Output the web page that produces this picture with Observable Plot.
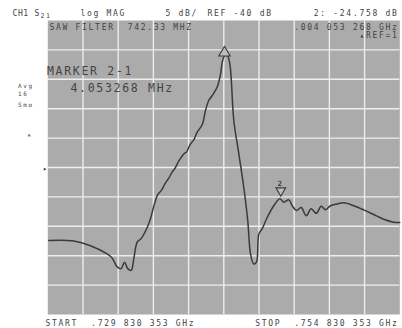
<!DOCTYPE html>
<html><head><meta charset="utf-8">
<script src="https://cdn.jsdelivr.net/npm/d3@7"></script>
<script src="https://cdn.jsdelivr.net/npm/@observablehq/plot@0.6"></script>
<style>
body{margin:0;background:#fff;}
#chart svg{display:block;}
</style>
</head><body><div id="chart"></div>
<script>
// Trace: frequency (MHz) and S21 log magnitude (dB)
const freqMHz = [729.90,731.68,732.86,734.05,734.40,734.76,735.04,735.28,735.51,735.75,735.94,736.18,736.46,736.89,737.10,737.36,737.64,737.90,738.19,738.40,738.66,738.90,739.13,739.49,739.70,739.96,740.20,740.44,740.80,741.03,741.26,741.50,741.86,742.10,742.22,742.38,742.57,742.76,743.04,743.40,743.75,744.03,744.23,744.46,744.65,744.82,745.06,745.41,745.88,746.31,746.59,746.95,747.19,747.49,747.83,748.18,748.54,748.89,749.25,749.55,749.91,750.38,750.85,751.56,752.27,752.98,753.69,754.40,754.83];
const magDB   = [-52.4,-52.5,-53.3,-54.7,-55.4,-56.9,-57.2,-56.1,-57.2,-57.5,-55.5,-52.7,-52.1,-50.2,-48.9,-46.6,-44.6,-43.9,-42.6,-41.9,-40.8,-40.0,-38.9,-37.7,-37.3,-36.0,-35.3,-34.0,-32.7,-30.3,-28.6,-27.8,-26.3,-24.1,-22.1,-21.0,-20.9,-22.4,-32.0,-37.7,-43.4,-49.0,-54.7,-56.4,-56.1,-51.3,-50.4,-48.5,-46.5,-45.3,-45.9,-45.5,-46.5,-47.3,-46.8,-48.2,-47.0,-47.8,-46.6,-47.2,-46.5,-46.2,-46.0,-46.5,-47.2,-48.0,-48.8,-49.3,-49.35];

// Markers
const markerFreq = [742.38, 746.38];
const markerDB   = [-21.0, -45.3];
const markerName = ["1", "2"];

// Grid (2.5 MHz/div, 5 dB/div, REF -40 dB at centre)
const xGrid = [732.33, 734.83, 737.33, 739.83, 742.33, 744.83, 747.33, 749.83, 752.33];
const yGrid = [-20, -25, -30, -35, -40, -45, -50, -55, -60];
const xDomain = [729.830353, 754.830353];
const yDomain = [-65, -15];

const trace = freqMHz.map((f, i) => ({f, db: magDB[i]}));
const markers = markerFreq.map((f, i) => ({f, db: markerDB[i], name: markerName[i]}));

const ink = "#3a3a3a";
const mono = "DejaVu Sans Mono, monospace";
const ML = 47.3, MT = 20;

function label(text, x, y, opts = {}) {
  return Plot.text([text], {
    text: d => d,
    frameAnchor: "top-left",
    dx: x - ML, dy: y - MT,
    textAnchor: opts.anchor || "start",
    lineAnchor: "middle",
    fontFamily: mono,
    fontSize: opts.size || 8,
    fill: opts.fill || "#444",
    fontWeight: opts.weight || "normal",
    className: opts.cls
  });
}

const chart = Plot.plot({
  width: 402,
  height: 328,
  marginLeft: ML,
  marginRight: 2.7,
  marginTop: MT,
  marginBottom: 14,
  style: {background: "#fff", overflow: "visible"},
  x: {domain: xDomain, axis: null},
  y: {domain: yDomain, axis: null},
  marks: [
    Plot.frame({fill: "#ababab", stroke: null}),
    Plot.ruleX(xGrid, {stroke: "#eeeeee", strokeWidth: 1.4}),
    Plot.ruleY(yGrid, {stroke: "#eeeeee", strokeWidth: 1.4}),
    Plot.line(trace, {x: "f", y: "db", stroke: ink, strokeWidth: 1.5, curve: "catmull-rom"}),
    Plot.dot(markers.slice(0, 1), {x: "f", y: "db", symbol: "triangle", r: 4.2, dy: -3, stroke: ink, strokeWidth: 1.1, fill: "#bdbdbd"}),
    Plot.dot(markers.slice(1), {x: "f", y: "db", symbol: "triangle", rotate: 180, r: 3.6, dy: -8, stroke: ink, strokeWidth: 1.1, fill: "#bdbdbd"}),
    Plot.text(markers.slice(1), {x: "f", y: "db", text: "name", dy: -15, fontFamily: mono, fontSize: 7, fontWeight: "bold", fill: ink}),
    // header line
    label("CH1", 12, 12.5, {cls: "tight"}),
    label("S", 34, 12.5, {cls: "tight"}),
    label("21", 40, 15, {size: 6.5}),
    label("log MAG", 80, 12.5),
    label("5 dB/", 165, 12.5),
    label("REF -40 dB", 207, 12.5),
    label("2: -24.758 dB", 398, 12.5, {anchor: "end"}),
    // inside top rows
    label("SAW FILTER  742.33 MHZ", 49, 27),
    label(".004 053 268 GHz", 398, 27, {anchor: "end"}),
    label("\u25B4REF=1", 398, 35, {anchor: "end"}),
    // marker readout
    label("MARKER 2-1", 46.5, 71, {size: 11.5}),
    label("4.053268 MHz", 70, 88, {size: 11.5}),
    // left annotations
    label("Avg", 17.5, 85.5, {size: 6}),
    label("16", 17.5, 94, {size: 6}),
    label("Smo", 17.5, 104.5, {size: 6}),
    label("*", 26.5, 136, {size: 7}),
    label("\u25B8", 42.5, 168.5, {size: 7}),
    // bottom line
    label("START  .729 830 353 GHz", 45, 322.5),
    label("STOP  .754 830 353 GHz", 398, 322.5, {anchor: "end"})
  ]
});

chart.querySelectorAll("text").forEach(t => {
  const fs = parseFloat(t.getAttribute("font-size") || "8");
  if (fs >= 11) t.setAttribute("letter-spacing", "2.5");
  else if (fs >= 7.5) t.setAttribute("letter-spacing", "1.7");
  else t.setAttribute("letter-spacing", "0.3");
});
chart.querySelectorAll("g.tight text").forEach(t => t.setAttribute("letter-spacing", "0.6"));
document.getElementById("chart").appendChild(chart);
</script>
</body></html>
